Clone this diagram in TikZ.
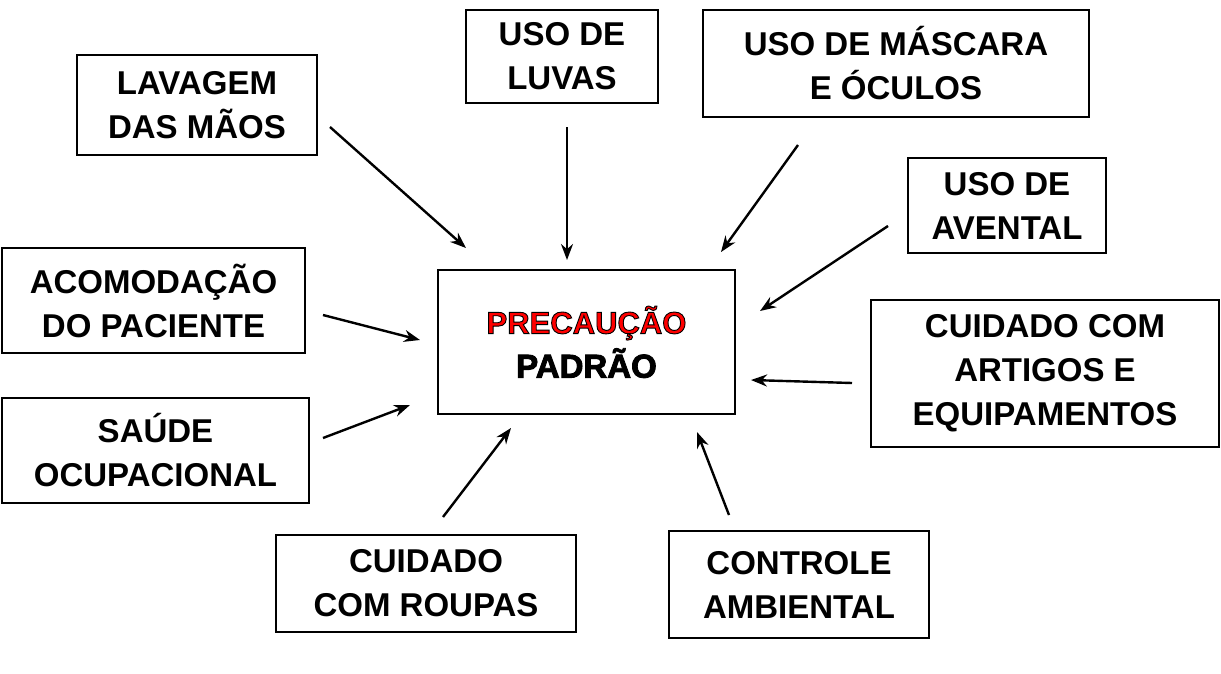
\documentclass[tikz,border=0pt]{standalone}
\usepackage{fontspec}
\setmainfont{Liberation Sans}
\usetikzlibrary{arrows.meta}
\begin{document}
\begin{tikzpicture}[x=1pt,y=-1pt,
  box/.style={draw,line width=2.6pt,align=center,font=\fontsize{33}{44}\selectfont\bfseries,inner sep=0pt},
  arr/.style={line width=2.4pt,-{Stealth[length=16pt,width=12pt]}}]
\useasboundingbox (0,0) rectangle (1221,673);
\node[box,minimum width=240,minimum height=100] (lav) at (197,105) {LAVAGEM\\DAS MÃOS};
\node[box,minimum width=192,minimum height=93] (luv) at (562,56.5) {USO DE\\LUVAS};
\node[box,minimum width=386,minimum height=107] (mas) at (896,63.5) {USO DE MÁSCARA\\E ÓCULOS};
\node[box,minimum width=198,minimum height=95] (ave) at (1007,205.5) {USO DE\\AVENTAL};
\node[box,minimum width=303,minimum height=105] (aco) at (153.5,300.5) {ACOMODAÇÃO\\DO PACIENTE};
\node[box,minimum width=297,minimum height=144] (pp) at (586.5,342)
 {\fontsize{31}{42}\selectfont\color{red}\special{pdf:literal 2 Tr 0.9 w 0 0 0 RG}PRECAUÇÃO\\\special{pdf:literal 2 Tr 0.9 w 0 0 0 RG}PADRÃO\special{pdf:literal 0 Tr}};
\node[box,minimum width=348,minimum height=147] (art) at (1045,373.5) {CUIDADO COM\\ARTIGOS E\\EQUIPAMENTOS};
\node[box,minimum width=307,minimum height=105] (sau) at (155.5,450.5) {SAÚDE\\OCUPACIONAL};
\node[box,minimum width=300,minimum height=97] (rou) at (426,583.5) {CUIDADO\\COM ROUPAS};
\node[box,minimum width=260,minimum height=107] (amb) at (799,584.5) {CONTROLE\\AMBIENTAL};
\coordinate (a1) at (330,127); \coordinate (b1) at (466,248);
\coordinate (a2) at (567,127); \coordinate (b2) at (567,260);
\coordinate (a3) at (798,145); \coordinate (b3) at (721,252);
\coordinate (a4) at (888,226); \coordinate (b4) at (760,311);
\coordinate (a5) at (323,315); \coordinate (b5) at (420,340);
\coordinate (a6) at (852,383); \coordinate (b6) at (751,380);
\coordinate (a7) at (323,438); \coordinate (b7) at (410,405);
\coordinate (a8) at (443,517); \coordinate (b8) at (511,428);
\coordinate (a9) at (729,515); \coordinate (b9) at (697,432);
\foreach \i in {1,...,9} \draw[arr] (a\i) -- (b\i);
\end{tikzpicture}
\end{document}
